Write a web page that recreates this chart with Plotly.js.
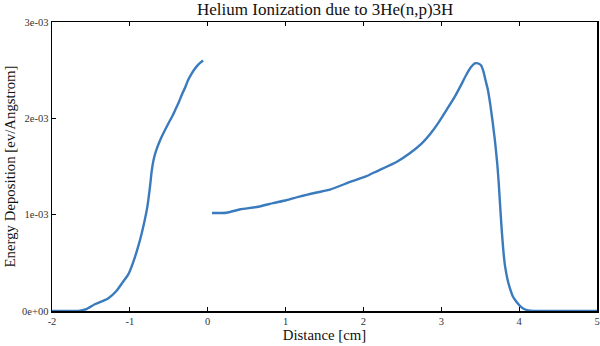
<!DOCTYPE html>
<html>
<head>
<meta charset="utf-8">
<script src="https://cdn.plot.ly/plotly-3.0.1.min.js"></script>
<style>html,body{margin:0;padding:0;background:#fff;}#chart{width:600px;height:346px;}</style>
</head>
<body>
<div id="chart"></div>
<script>
// Left segment (behind the source)
const xLeft = [-2.0, -1.70, -1.64, -1.56, -1.45, -1.36, -1.28, -1.17, -1.09, -1.02, -0.96, -0.90, -0.85, -0.81, -0.78, -0.76, -0.74, -0.72, -0.695, -0.665, -0.61, -0.56, -0.49, -0.45, -0.41, -0.37, -0.33, -0.29, -0.25, -0.21, -0.17, -0.13, -0.09, -0.06];
const yLeft = [0.0, 0.0, 0.004, 0.02, 0.07, 0.10, 0.13, 0.21, 0.30, 0.38, 0.50, 0.65, 0.80, 0.94, 1.06, 1.17, 1.30, 1.45, 1.57, 1.66, 1.775, 1.86, 1.97, 2.03, 2.10, 2.17, 2.25, 2.32, 2.40, 2.46, 2.51, 2.55, 2.58, 2.60];
// Right segment (in front of the source)
const xRight = [0.055, 0.24, 0.42, 0.63, 0.84, 1.01, 1.19, 1.40, 1.57, 1.83, 2.04, 2.17, 2.43, 2.60, 2.75, 2.86, 2.96, 3.07, 3.17, 3.25, 3.32, 3.38, 3.43, 3.47, 3.51, 3.54, 3.57, 3.60, 3.63, 3.66, 3.69, 3.72, 3.74, 3.76, 3.78, 3.80, 3.82, 3.85, 3.88, 3.92, 3.97, 4.02, 4.07, 4.14, 4.30, 5.0];
const yRight = [1.017, 1.02, 1.056, 1.08, 1.12, 1.15, 1.19, 1.23, 1.26, 1.34, 1.40, 1.45, 1.55, 1.64, 1.74, 1.84, 1.95, 2.09, 2.22, 2.34, 2.45, 2.53, 2.57, 2.57, 2.55, 2.49, 2.39, 2.29, 2.14, 1.96, 1.76, 1.52, 1.30, 1.04, 0.80, 0.60, 0.46, 0.33, 0.24, 0.15, 0.09, 0.045, 0.018, 0.004, 0.0, 0.0];
const yTickVals = [0, 0.001, 0.002, 0.003];
const yTickText = ['0e+00', '1e-03', '2e-03', '3e-03'];
const xTickVals = [-2, -1, 0, 1, 2, 3, 4, 5];

const scale = v => v.map(y => y * 1e-3);
const lineStyle = {color: '#3a7bbd', width: 2.4, shape: 'spline', smoothing: 0.5};

const data = [
  {x: xLeft, y: scale(yLeft), mode: 'lines', line: lineStyle, hoverinfo: 'skip'},
  {x: xRight, y: scale(yRight), mode: 'lines', line: lineStyle, hoverinfo: 'skip'}
];

const font = 'Liberation Serif, serif';
const layout = {
  width: 600, height: 346,
  margin: {l: 52, r: 3, t: 22, b: 35},
  paper_bgcolor: '#fff', plot_bgcolor: '#fff',
  showlegend: false,
  font: {family: font, color: '#222'},
  title: {text: 'Helium Ionization due to 3He(n,p)3H', font: {family: font, size: 17, color: '#111'}, x: 0.542, xanchor: 'center', yref: 'container', y: 0.992, yanchor: 'top'},
  xaxis: {
    range: [-2, 5], tickvals: xTickVals, ticktext: xTickVals.map(String),
    ticks: 'inside', ticklen: 4, tickcolor: '#000', tickwidth: 1,
    showline: true, linecolor: '#000', linewidth: 1.5, mirror: 'ticks',
    showgrid: false, zeroline: false,
    tickfont: {family: font, size: 10.5, color: '#333'},
    title: {text: 'Distance [cm]', font: {family: font, size: 14.8, color: '#111'}, standoff: 2}
  },
  yaxis: {
    range: [0, 0.003], tickvals: yTickVals, ticktext: yTickText,
    ticks: 'inside', ticklen: 4, tickcolor: '#000', tickwidth: 1,
    showline: true, linecolor: '#000', linewidth: 1.5, mirror: true,
    showgrid: false, zeroline: false,
    tickfont: {family: font, size: 10.5, color: '#333'},
    title: {text: 'Energy Deposition [ev/Angstrom]', font: {family: font, size: 14.8, color: '#111'}, standoff: 3}
  }
};

Plotly.newPlot('chart', data, layout, {staticPlot: true, displayModeBar: false});
</script>
</body>
</html>
